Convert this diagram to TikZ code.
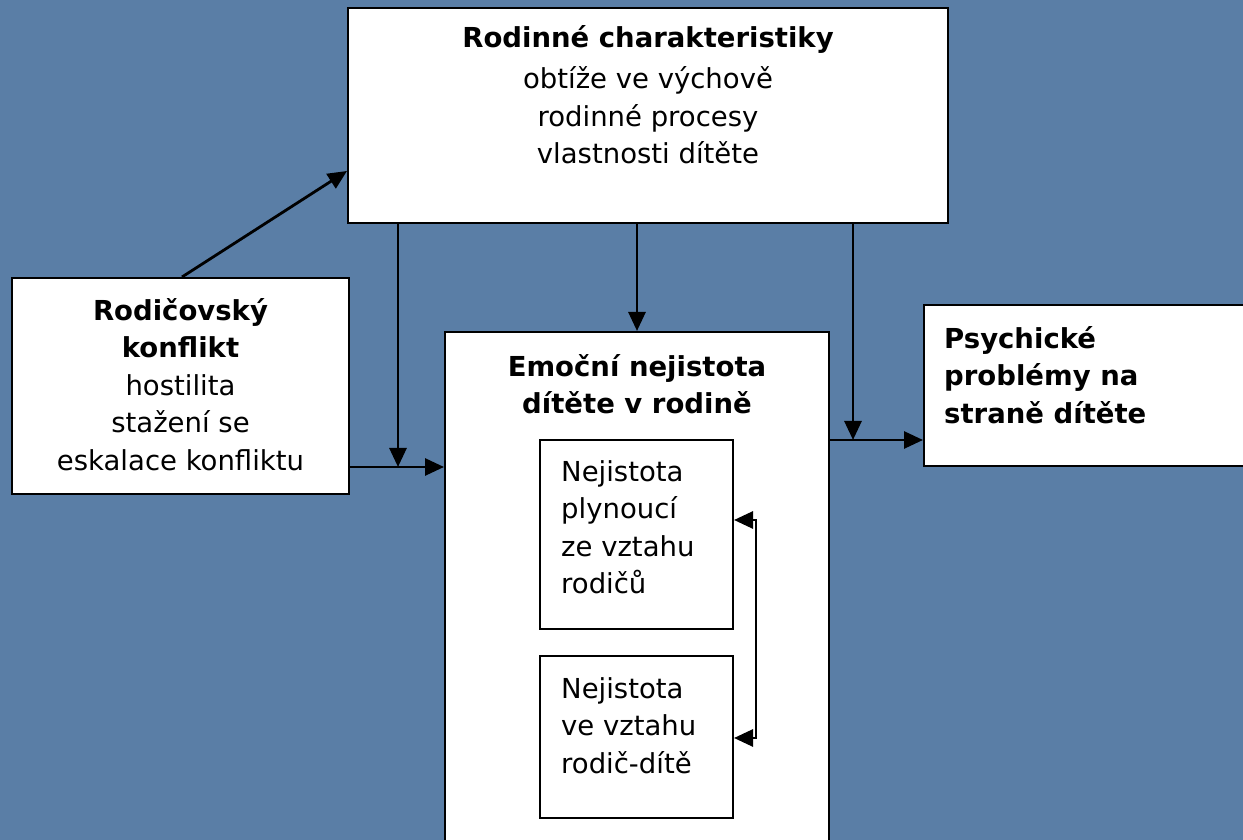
\documentclass[tikz,border=0pt]{standalone}
\usepackage{fontspec}
\setmainfont{DejaVu Sans}
\usetikzlibrary{arrows.meta,calc}
\definecolor{bgblue}{RGB}{90,126,166}
\begin{document}
\begin{tikzpicture}[x=1pt,y=1pt,
  box/.style={draw=black,line width=2pt,fill=white,inner sep=0pt},
  txt/.style={inner sep=0pt,font=\fontsize{27.5}{37.5}\selectfont},
  arr/.style={line width=2.8pt,-{Triangle[length=19pt,width=17pt]}},
  darr/.style={line width=2.8pt,{Triangle[length=19pt,width=17pt]}-{Triangle[length=19pt,width=17pt]}}]
\fill[bgblue] (0,0) rectangle (1243,840);
\useasboundingbox (0,0) rectangle (1243,840);
% boxes
\node[box,minimum width=600pt,minimum height=215pt] (top) at (648,724.5) {};
\node[box,minimum width=337pt,minimum height=216pt] (left) at (180.5,454) {};
\node[box,minimum width=384pt,minimum height=520pt] (center) at (637,248) {};
\node[box,minimum width=330pt,minimum height=161pt] (right) at (1089,454.5) {};
\node[box,minimum width=193pt,minimum height=189pt] (inA) at (636.5,305.5) {};
\node[box,minimum width=193pt,minimum height=162pt] (inB) at (636.5,103) {};
% texts
\node[txt,anchor=north,align=center] (topT) at ([yshift=-18pt]top.north)
  {\textbf{Rodinné charakteristiky}\\[4pt]obtíže ve výchově\\rodinné procesy\\vlastnosti dítěte};
\node[txt,anchor=north,align=center] (leftT) at ([yshift=-21pt]left.north)
  {\textbf{Rodičovský}\\\textbf{konflikt}\\hostilita\\stažení se\\eskalace konfliktu};
\node[txt,anchor=north,align=center] (centerT) at ([yshift=-23pt]center.north)
  {\textbf{Emoční nejistota}\\\textbf{dítěte v rodině}};
\node[txt,anchor=north west,align=left] (rightT) at ([xshift=21pt,yshift=-22pt]right.north west)
  {\textbf{Psychické}\\\textbf{problémy na}\\\textbf{straně dítěte}};
\node[txt,anchor=north west,align=left] (inAT) at ([xshift=22pt,yshift=-21pt]inA.north west)
  {Nejistota\\plynoucí\\ze vztahu\\rodičů};
\node[txt,anchor=north west,align=left] (inBT) at ([xshift=22pt,yshift=-22pt]inB.north west)
  {Nejistota\\ve vztahu\\rodič-dítě};
% junctions
\coordinate (j1) at (398,373);
\coordinate (j2) at (853,400);
\coordinate (r1) at (756,320);
\coordinate (r2) at (756,102);
% connectors
\draw[arr] ([xshift=1.5pt]left.north) -- ([yshift=-55.5pt]top.west);
\draw[arr] (top.south -| j1) -- (j1);
\draw[arr] (left.east |- j1) -- (center.west |- j1);
\draw[arr] (top.south -| center.north) -- (center.north);
\draw[arr] (top.south -| j2) -- (j2);
\draw[arr] (center.east |- j2) -- (right.west |- j2);
\draw[darr] (inA.east |- r1) -- (r1) -- (r2) -- (inB.east |- r2);
\end{tikzpicture}
\end{document}
